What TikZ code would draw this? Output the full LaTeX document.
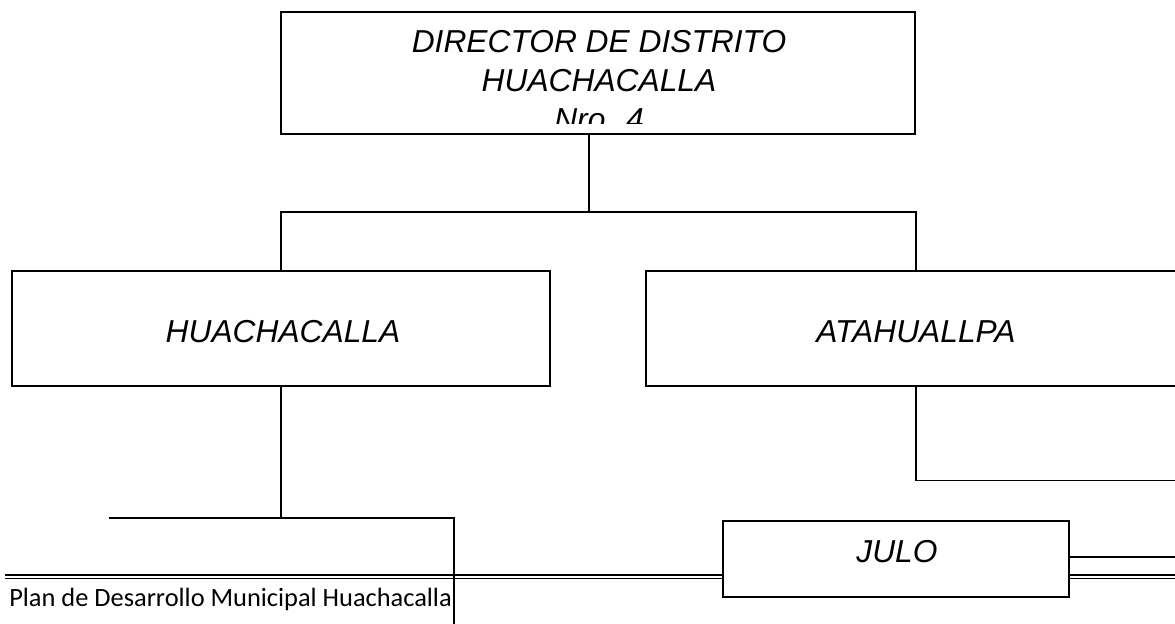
\documentclass[tikz,border=0pt]{standalone}
\usepackage{fontspec}
\setmainfont{Liberation Sans}
\newfontfamily\footfont{Carlito}
\begin{document}
\begin{tikzpicture}[x=0.75pt,y=-0.75pt,
  box/.style={draw, line width=1.1pt, fill=white, inner sep=0pt, outer sep=0pt},
  lbl/.style={anchor=base, inner sep=0pt, font=\fontsize{23.8pt}{29.25pt}\selectfont\itshape},
  conn/.style={line width=1pt},
  rule/.style={line width=#1}]
\useasboundingbox (0,0) rectangle (1175,624);
% helper coordinates
\coordinate (bus) at (589,212);
\coordinate (lbL) at (109,518);
\coordinate (lbR) at (454,518);
\coordinate (lbEnd) at (454,640);
\coordinate (rEnd) at (1190,480.5);
\coordinate (jEnd) at (1190,557);
\coordinate (dlA) at (5,575);
\coordinate (dlB) at (5,578.3);
\coordinate (drA) at (1190,575);
\coordinate (drB) at (1190,578.3);
% boxes
\node[box, minimum width=475.5pt, minimum height=91.5pt] (top) at (598,73) {};
\node[box, minimum width=403.5pt, minimum height=86.25pt] (left) at (281,328.5) {};
\node[box, minimum width=405pt, minimum height=86.25pt] (right) at (916,328.5) {};
% connectors
\draw[conn] (top.south -| bus) -- (bus);
\draw[conn] (left.north) -- (left.north |- bus) -- (right.north |- bus) -- (right.north);
\draw[conn] (left.south) -- (left.south |- lbL);
\draw[conn] (lbL) -- (lbR) -- (lbEnd);
\draw[conn] (right.south) -- (right.south |- rEnd) -- (rEnd);
% footer rule (double line)
\node[box, minimum width=259.5pt, minimum height=57pt] (julo) at (896,559) {};
\draw[rule=1.5pt] (dlA) -- (dlA -| julo.west);
\draw[rule=0.8pt] (dlB) -- (dlB -| julo.west);
\draw[rule=1.5pt] (julo.east |- drA) -- (drA);
\draw[rule=0.8pt] (julo.east |- drB) -- (drB);
\draw[conn, line width=0.8pt] (julo.east |- jEnd) -- (jEnd);
\draw[conn] (lbR) -- (lbEnd);
% labels
\begin{scope}
\clip (281,12) rectangle (915,124);
\node[lbl] (t1) at (599,52.7) {DIRECTOR DE DISTRITO};
\node[lbl] (t2) at (599,91.7) {HUACHACALLA};
\node[lbl] (t3) at (599,130.7) {Nro. 4};
\end{scope}
\node[lbl] (lt) at (283,342.7) {HUACHACALLA};
\node[lbl] (rt) at (916,342.7) {ATAHUALLPA};
\node[lbl] (jt) at (897,562.3) {JULO};
\node[anchor=base west, inner sep=0pt, font=\footfont\fontsize{19.8pt}{22pt}\selectfont] (foot) at (9,606) {Plan de Desarrollo Municipal Huachacalla};
\end{tikzpicture}
\end{document}
